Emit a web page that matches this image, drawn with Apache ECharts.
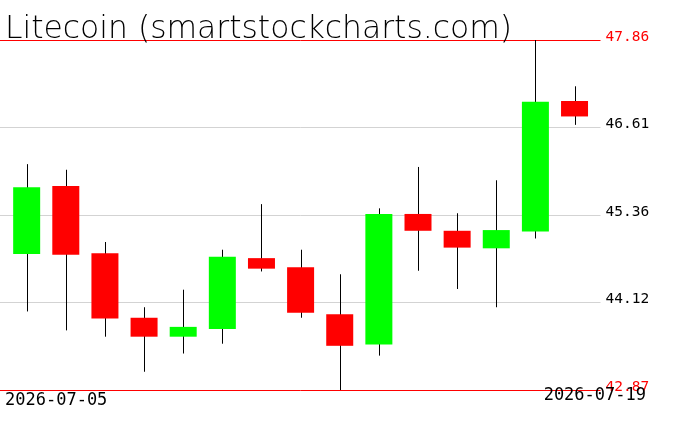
<!DOCTYPE html>
<html>
<head>
<meta charset="utf-8">
<script src="https://cdn.jsdelivr.net/npm/echarts@6/dist/echarts.min.js"></script>
<style>
html,body{margin:0;padding:0;background:#fff;}
#chart{width:676px;height:431px;}
</style>
</head>
<body>
<div id="chart"></div>
<script>
const titleText = 'Litecoin (smartstockcharts.com)';
const dates = ['2026-07-05','2026-07-06','2026-07-07','2026-07-08','2026-07-09','2026-07-10','2026-07-11','2026-07-12','2026-07-13','2026-07-14','2026-07-15','2026-07-16','2026-07-17','2026-07-18','2026-07-19'];
const opens  = [44.81, 45.78, 44.82, 43.90, 43.63, 43.74, 44.75, 44.62, 43.95, 43.52, 45.38, 45.14, 44.89, 45.13, 46.99];
const closes = [45.76, 44.80, 43.89, 43.63, 43.77, 44.77, 44.60, 43.97, 43.50, 45.38, 45.14, 44.90, 45.15, 46.98, 46.77];
const lows   = [43.99, 43.72, 43.63, 43.13, 43.39, 43.53, 44.56, 43.90, 42.87, 43.36, 44.57, 44.31, 44.05, 45.03, 46.65];
const highs  = [46.09, 46.01, 44.98, 44.05, 44.30, 44.87, 45.52, 44.87, 44.52, 45.46, 46.05, 45.39, 45.86, 47.86, 47.20];
const tickValues = [42.87, 44.12, 45.36, 46.61, 47.86];
const tickLabels = ['42.87', '44.12', '45.36', '46.61', '47.86'];

const yMin = tickValues[0], yMax = tickValues[tickValues.length - 1];
const UP = '#00ff00', DOWN = '#ff0000', EDGE = '#ff0000', GRIDC = '#d3d3d3';

const candleData = dates.map((d, i) => [i, opens[i], closes[i], lows[i], highs[i]]);

function renderItem(params, api) {
  const x = api.value(0);
  const o = api.value(1), c = api.value(2), l = api.value(3), h = api.value(4);
  const pH = api.coord([x, h]);
  const pL = api.coord([x, l]);
  const pO = api.coord([x, o]);
  const pC = api.coord([x, c]);
  const w = api.size([1, 0])[0] * 0.69;
  const cx = Math.round(pH[0]) + 0.5;
  return {
    type: 'group',
    children: [
      { type: 'line', shape: { x1: cx, y1: pH[1], x2: cx, y2: pL[1] }, style: { stroke: '#000', lineWidth: 1 } },
      { type: 'rect', shape: { x: pO[0] - w / 2, y: Math.min(pO[1], pC[1]), width: w, height: Math.max(1, Math.abs(pO[1] - pC[1])) },
        style: { fill: c >= o ? UP : DOWN } }
    ]
  };
}

const lineMarks = tickValues.map((v, i) => {
  const edge = (i === 0 || i === tickValues.length - 1);
  return {
    yAxis: v,
    lineStyle: { color: edge ? EDGE : GRIDC, width: 1, type: 'solid' },
    label: { show: true, position: 'end', formatter: tickLabels[i], color: edge ? EDGE : '#000',
      fontFamily: 'DejaVu Sans Mono', fontSize: 14.5, offset: [0, -3], distance: 5 }
  };
});

const chart = echarts.init(document.getElementById('chart'), null, { renderer: 'canvas' });
chart.setOption({
  animation: false,
  backgroundColor: '#fff',
  grid: [
    { left: 7.1, right: 81.9, top: 40, bottom: 41 },
    { left: 0, right: 75.5, top: 40, bottom: 41 }
  ],
  xAxis: [
    { type: 'category', gridIndex: 0, data: dates, boundaryGap: true, show: false },
    { type: 'value', gridIndex: 1, min: 0, max: 1, show: false }
  ],
  yAxis: [
    { type: 'value', gridIndex: 0, min: yMin, max: yMax, show: false, splitLine: { show: false } },
    { type: 'value', gridIndex: 1, min: yMin, max: yMax, show: false, splitLine: { show: false } }
  ],
  graphic: [
    { type: 'text', left: 5, top: 14.5, style: { text: titleText, fontFamily: 'DejaVu Sans', fontSize: 31.4, fontWeight: 200, fill: '#000' }, z: 100 },
    { type: 'text', x: 5, y: 401, style: { text: dates[0], fontFamily: 'DejaVu Sans Mono', fontSize: 17, fill: '#000', align: 'left', verticalAlign: 'middle' }, z: 100 },
    { type: 'text', x: 646, y: 396, style: { text: dates[dates.length - 1], fontFamily: 'DejaVu Sans Mono', fontSize: 17, fill: '#000', align: 'right', verticalAlign: 'middle' }, z: 100 }
  ],
  series: [
    {
      type: 'line', xAxisIndex: 1, yAxisIndex: 1, data: [], silent: true, z: 1,
      markLine: { silent: true, symbol: 'none', animation: false, data: lineMarks }
    },
    {
      type: 'custom', xAxisIndex: 0, yAxisIndex: 0, renderItem: renderItem, data: candleData, z: 5,
      encode: { x: 0, y: [1, 2, 3, 4] }
    }
  ]
});
</script>
</body>
</html>
